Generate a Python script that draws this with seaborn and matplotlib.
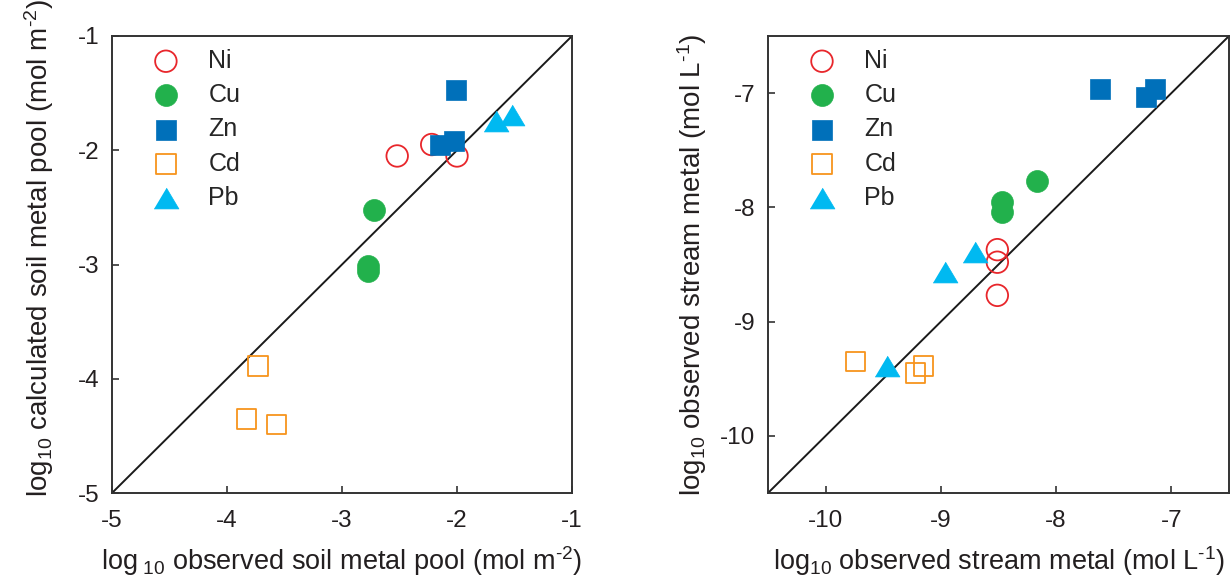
import numpy as np
import pandas as pd
import matplotlib
matplotlib.use("Agg")
import matplotlib.pyplot as plt
import seaborn as sns

sns.set_style("white")
plt.rcParams['font.family'] = ['Liberation Sans', 'DejaVu Sans']
plt.rcParams['mathtext.fontset'] = 'custom'
plt.rcParams['mathtext.rm'] = 'Liberation Sans'
plt.rcParams['mathtext.it'] = 'Liberation Sans'
plt.rcParams['axes.unicode_minus'] = False

metals = ["Ni", "Cu", "Zn", "Cd", "Pb"]
colors = {"Ni": "#E8262B", "Cu": "#22B14C", "Zn": "#0070BA", "Cd": "#F7941D", "Pb": "#00B9F1"}

# Left panel: soil metal pool (observed vs calculated)
soil_obs = {
    "Ni": [-2.52, -2.22, -2.00],
    "Cu": [-2.72, -2.77, -2.77],
    "Zn": [-2.01, -2.15, -2.03],
    "Cd": [-3.73, -3.83, -3.57],
    "Pb": [-1.66, -1.52],
}
soil_calc = {
    "Ni": [-2.05, -1.95, -2.05],
    "Cu": [-2.52, -3.01, -3.06],
    "Zn": [-1.47, -1.95, -1.92],
    "Cd": [-3.89, -4.35, -4.40],
    "Pb": [-1.74, -1.69],
}

# Right panel: stream metal
stream_x = {
    "Ni": [-8.51, -8.51, -8.51],
    "Cu": [-8.17, -8.47, -8.47],
    "Zn": [-7.62, -7.22, -7.14],
    "Cd": [-9.74, -9.22, -9.15],
    "Pb": [-9.47, -8.96, -8.70],
}
stream_y = {
    "Ni": [-8.37, -8.48, -8.77],
    "Cu": [-7.77, -7.95, -8.04],
    "Zn": [-6.96, -7.03, -6.96],
    "Cd": [-9.35, -9.45, -9.39],
    "Pb": [-9.39, -8.57, -8.39],
}

left_ticks = [-5, -4, -3, -2, -1]
right_ticks = [-10, -9, -8, -7]

tri = [(-1.0, -0.84), (1.0, -0.84), (0.0, 0.84)]
styles = {
    "Ni": dict(marker="o", s=240, open=True),
    "Cu": dict(marker="o", s=250, open=False),
    "Zn": dict(marker="s", s=210, open=False),
    "Cd": dict(marker="s", s=200, open=True),
    "Pb": dict(marker=tri, s=320, open=False),
}

fig = plt.figure(figsize=(12.3, 5.84), dpi=100)
axL = fig.add_axes([112/1230, 91/584, 460/1230, 457/584])
axR = fig.add_axes([768/1230, 91/584, 461/1230, 457/584])

TICK_FS = 17.5
LABEL_FS = 19.5
YLABEL_FS = 20
LEG_FS = 18


def draw(ax, xs, ys, lim, ticks, xlabel, ylabel, ylabelpad, ylab_y):
    for m in metals:
        df = pd.DataFrame({"x": xs[m], "y": ys[m]})
        st = styles[m]
        c = colors[m]
        if st["open"]:
            sns.scatterplot(data=df, x="x", y="y", ax=ax, marker=st["marker"], s=st["s"],
                            color=c, facecolor="none", edgecolor=c, linewidth=1.3,
                            label=m, legend=False, zorder=3)
        else:
            sns.scatterplot(data=df, x="x", y="y", ax=ax, marker=st["marker"], s=st["s"],
                            color=c, edgecolor=c, linewidth=0.5,
                            label=m, legend=False, zorder=3)
    ax.axline((0, 0), slope=1, color="#1a1a1a", lw=1.4, zorder=2)
    ax.set_xlim(lim)
    ax.set_ylim(lim)
    ax.set_xticks(ticks)
    ax.set_yticks(ticks)
    ax.tick_params(axis="both", direction="in", length=5, width=1.2, colors="#333333",
                   labelcolor="#231f20", labelsize=TICK_FS, bottom=True, left=True,
                   top=False, right=False)
    ax.tick_params(axis="x", pad=12)
    ax.tick_params(axis="y", pad=9)
    for sp in ax.spines.values():
        sp.set_visible(True)
        sp.set_color("#333333")
        sp.set_linewidth(1.4)
    ax.set_xlabel(xlabel, fontsize=LABEL_FS, color="#231f20", labelpad=9)
    ax.set_ylabel(ylabel, fontsize=YLABEL_FS, color="#231f20", labelpad=ylabelpad)
    ax.yaxis.label.set_y(ylab_y)
    ax.legend(loc="upper left", bbox_to_anchor=(0.09, 0.972), frameon=False,
              fontsize=LEG_FS, handlelength=1.0, handletextpad=1.2,
              labelspacing=0.41, borderaxespad=0, borderpad=0, markerscale=1.0)


draw(axL, soil_obs, soil_calc, (-5, -1), left_ticks,
     r"log$_{\ 10}$ observed soil metal pool (mol m$^{\text{-2}}$)",
     r"log$_{10}$ calculated soil metal pool (mol m$^{\text{-2}}$)", 16, 0.535)
draw(axR, stream_x, stream_y, (-10.5, -6.5), right_ticks,
     r"log$_{10}$ observed stream metal (mol L$^{\text{-1}}$)",
     r"log$_{10}$ observed stream metal (mol L$^{\text{-1}}$)", 8, 0.5)

fig.savefig("out.png", dpi=100, facecolor="white")
